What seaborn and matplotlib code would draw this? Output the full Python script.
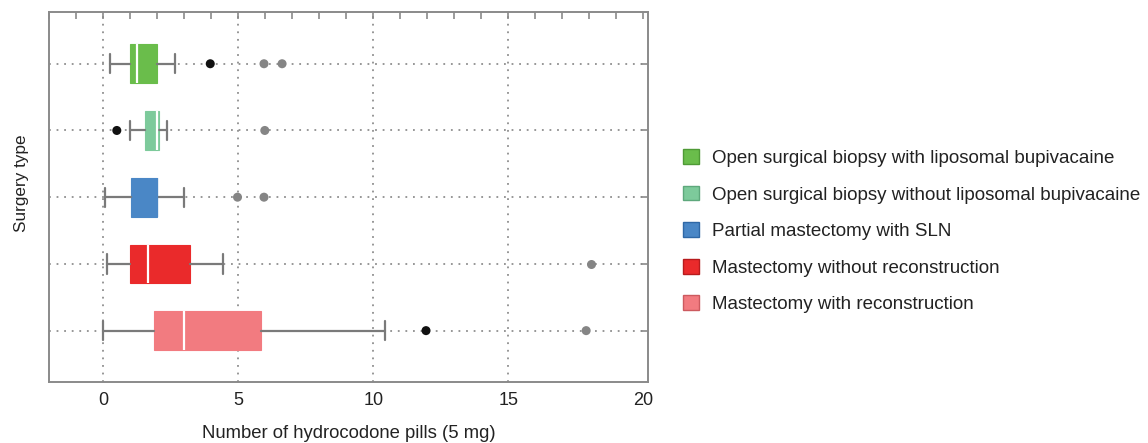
import matplotlib
matplotlib.use("Agg")
import matplotlib.pyplot as plt
import matplotlib.patches as mpatches
from matplotlib.ticker import MultipleLocator
import pandas as pd
import seaborn as sns

# surgery groups, top to bottom
groups = [
    "Open surgical biopsy with liposomal bupivacaine",
    "Open surgical biopsy without liposomal bupivacaine",
    "Partial mastectomy with SLN",
    "Mastectomy without reconstruction",
    "Mastectomy with reconstruction",
]
box_colors = ["#6abd4b", "#7dca9b", "#4a87c6", "#ea2a2b", "#f27b80"]
edge_colors = ["#4f9a36", "#5ea87c", "#2f68a6", "#b71b1d", "#cc5a5f"]

# box statistics
whisker_low = [0.25, 1.0, 0.05, 0.15, 0.0]
q1 = [1.0, 1.55, 1.03, 0.97, 1.86]
median = [1.25, 1.98, 2.0, 1.66, 3.0]
q3 = [2.0, 2.07, 2.0, 3.22, 5.84]
whisker_high = [2.67, 2.34, 3.0, 4.45, 10.42]

# outliers
outlier_group = [0, 0, 0, 1, 1, 2, 2, 3, 4, 4]
outlier_value = [3.96, 5.95, 6.62, 0.5, 5.98, 4.97, 5.95, 18.05, 11.95, 17.88]
outlier_kind = ["mild", "far", "far", "mild", "far", "far", "far", "far", "mild", "far"]

sns.set_style("white")
plt.rcParams["font.family"] = ["Liberation Sans", "DejaVu Sans"]

fig = plt.figure(figsize=(11.48, 4.43), dpi=100)
ax = fig.add_axes([49.3 / 1148, 1 - 382 / 443, (648 - 49.3) / 1148, (382 - 11.7) / 443])

df_out = pd.DataFrame({
    "group": [groups[i] for i in outlier_group],
    "value": outlier_value,
    "kind": outlier_kind,
})
sns.stripplot(data=df_out, x="value", y="group", hue="kind", order=groups,
              palette={"mild": "#111111", "far": "#858585"}, jitter=False,
              size=6.5, linewidth=0, legend=False, ax=ax, zorder=4)

stats = []
for i in range(len(groups)):
    stats.append({"whislo": whisker_low[i], "q1": q1[i], "med": median[i],
                  "q3": q3[i], "whishi": whisker_high[i], "fliers": []})

bp = ax.bxp(stats, positions=range(len(groups)), orientation="horizontal",
            widths=0.58, capwidths=0.29, patch_artist=True, showfliers=False,
            manage_ticks=False,
            whiskerprops={"color": "#7a7a7a", "lw": 1.6},
            capprops={"color": "#7a7a7a", "lw": 1.6},
            medianprops={"color": "white", "lw": 1.6},
            zorder=3)
for patch, c in zip(bp["boxes"], box_colors):
    patch.set_facecolor(c)
    patch.set_edgecolor(c)
    patch.set_linewidth(0.8)
# the blue box shows no separate median line
bp["medians"][2].set_color(box_colors[2])

ax.set_xlim(-2, 20.17)
ax.set_ylim(4.77, -0.78)
ax.set_xticks([0, 5, 10, 15, 20])
ax.xaxis.set_minor_locator(MultipleLocator(1))
ax.set_yticks(range(len(groups)))
ax.set_yticklabels([])
ax.set_ylabel("")

ax.grid(True, which="major", linestyle=(0, (1, 3.2)), color="#8f8f8f", lw=1.3)
ax.get_xgridlines()[-1].set_visible(False)
ax.set_axisbelow(True)

for s in ax.spines.values():
    s.set_color("#8a8a8a")
    s.set_linewidth(1.4)
ax.tick_params(which="both", direction="in", top=True, right=True, length=5,
               width=1.2, color="#8a8a8a")
ax.tick_params(axis="x", labelsize=13, pad=7, labelcolor="#222222")

ax.set_xlabel("Number of hydrocodone pills (5 mg)", fontsize=13.3, labelpad=12, color="#222222")
fig.text(22 / 1148, 1 - 183 / 443, "Surgery type", rotation=90, ha="center", va="center",
         fontsize=12.3, color="#222222")

handles = [mpatches.Patch(facecolor=c, edgecolor=e, lw=1) for c, e in zip(box_colors, edge_colors)]
fig.legend(handles, groups, loc="upper left", bbox_to_anchor=(683 / 1148, 1 - 149 / 443),
           frameon=False, fontsize=13.5, handlelength=0.85, handleheight=0.85,
           handletextpad=0.7, labelspacing=0.99, borderpad=0, borderaxespad=0,
           labelcolor="#222222")

fig.savefig("out.png", dpi=100)
